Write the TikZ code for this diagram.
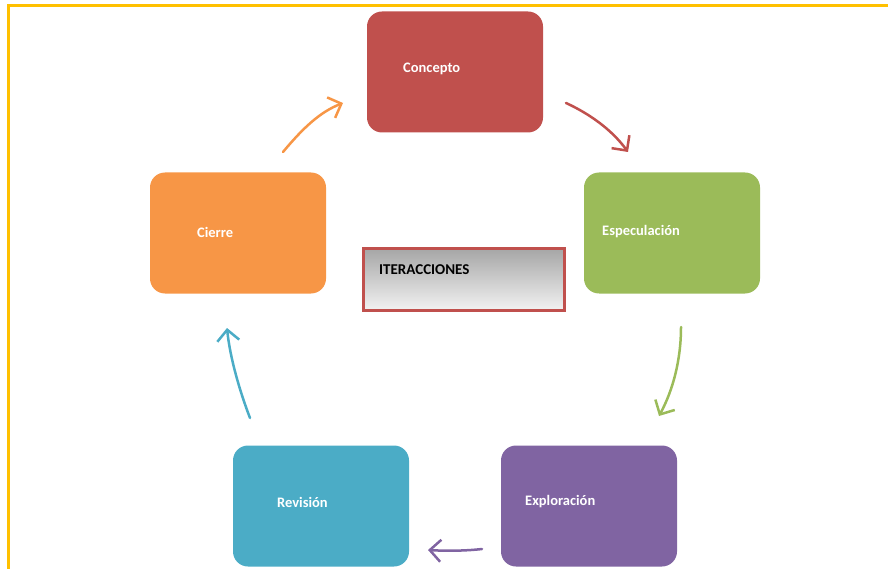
\documentclass[tikz,border=0pt]{standalone}
\usepackage{fontspec}
\setmainfont{Carlito}
\usetikzlibrary{arrows.meta}

\definecolor{frameyellow}{HTML}{FFC000}
\definecolor{cred}{HTML}{C0504D}
\definecolor{cgreen}{HTML}{9BBB59}
\definecolor{cpurple}{HTML}{8064A2}
\definecolor{cblue}{HTML}{4BACC6}
\definecolor{corange}{HTML}{F79646}

\tikzset{
  phase/.style={draw=none, rounded corners=15pt, minimum width=176pt,
    minimum height=121pt, inner sep=0pt},
  phasetext/.style={anchor=west, text=white,
    font=\bfseries\fontsize{14.5}{16}\selectfont, inner sep=0pt},
  cyclearrow/.style={line width=2.5pt, line cap=round,
    -{Straight Barb[length=11pt,width=22pt,line width=2.5pt]}},
}

\begin{document}
\begin{tikzpicture}[x=1pt,y=-1pt]
  \useasboundingbox (0,0) rectangle (888,569);

  % outer frame (top and left edges)
  \draw[frameyellow, line width=3pt] (888,6) -- (8,6) -- (8,569);

  % the five phases
  \node[phase, fill=cred]    (concepto)    at (455,72)  {};
  \node[phase, fill=cgreen]  (especulacion) at (672,233) {};
  \node[phase, fill=cpurple] (exploracion) at (589,506) {};
  \node[phase, fill=cblue]   (revision)    at (321,506) {};
  \node[phase, fill=corange] (cierre)      at (238,233) {};

  \node[phasetext] (tconcepto) at (403,69)  {Concepto};
  \node[phasetext] (tespec)    at (602,232) {Especulación};
  \node[phasetext] (texplor)   at (525,502) {Exploración};
  \node[phasetext] (trevis)    at (277,502) {Revisión};
  \node[phasetext] (tcierre)   at (197,232) {Cierre};

  % central label box
  \node[draw=cred, line width=3pt, top color=black!35, bottom color=black!5,
        minimum width=201pt, minimum height=62pt, inner sep=0pt]
        (iter) at (464,279.5) {};
  \node[anchor=west, inner sep=0pt, font=\bfseries\fontsize{15}{17}\selectfont]
        (titer) at (379,270) {ITERACCIONES};

  % arrow end points
  \coordinate (o1) at (283,152); \coordinate (o2) at (343,103);
  \coordinate (r1) at (566,103); \coordinate (r2) at (628,152);
  \coordinate (g1) at (681,327); \coordinate (g2) at (659,416);
  \coordinate (p1) at (482,549); \coordinate (p2) at (428,550);
  \coordinate (b1) at (250,418); \coordinate (b2) at (227,328);

  % cycle arrows
  \draw[cyclearrow, corange] (o1) .. controls (303,128) and (320,112) .. (o2);
  \draw[cyclearrow, cred]    (r1) .. controls (590,114) and (612,130) .. (r2);
  \draw[cyclearrow, cgreen]  (g1) .. controls (681,360) and (673,390) .. (g2);
  \draw[cyclearrow, cpurple] (p1) .. controls (465,551) and (445,551) .. (p2);
  \draw[cyclearrow, cblue]   (b1) .. controls (240,392) and (230,358) .. (b2);
\end{tikzpicture}
\end{document}
